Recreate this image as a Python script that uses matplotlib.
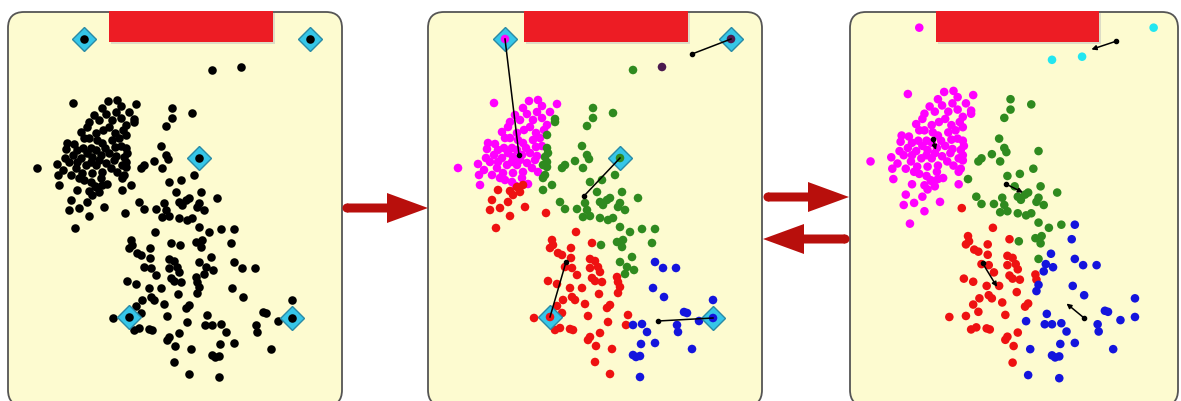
import numpy as np
import matplotlib.pyplot as plt
from matplotlib.patches import FancyBboxPatch, Rectangle, FancyArrow, Circle

# point positions, pixels inside a panel (y goes down), grouped by
# cluster after the first assignment -> cluster after the second one
mm_x = [74, 109, 118, 137, 95, 107, 117, 127, 88, 97, 110, 116, 85, 68, 67, 78, 92, 103, 113, 120,
        82, 93, 102, 110, 38, 58, 70, 77, 87, 97, 107, 72, 83, 93, 103, 60, 85, 92, 102,
        100, 113, 122, 104, 90, 98, 75, 84, 97, 106, 116, 122, 74, 88, 115, 78, 92, 100, 64, 80,
        112, 117, 124, 130, 122, 103, 66, 59, 96, 108, 118, 90, 82]
mm_y = [103, 101, 100, 104, 115, 114, 112, 125, 127, 133, 127, 133, 138, 143, 149, 150, 148, 143, 140, 138,
        158, 157, 155, 153, 168, 164, 162, 168, 165, 165, 163, 175, 173, 173, 172, 185, 180, 182, 178,
        120, 120, 118, 130, 138, 140, 144, 148, 150, 148, 147, 146, 155, 153, 160, 162, 162, 160, 170, 178,
        168, 156, 130, 112, 106, 108, 158, 175, 186, 184, 172, 122, 132]

gm_x = [135, 135, 127, 127, 128, 125, 127, 127, 123, 125, 123, 123]
gm_y = [119, 122, 135, 148, 153, 157, 162, 167, 165, 175, 178, 190]

rm_x = [78, 90, 97, 100, 93, 103, 72, 80, 88, 70, 90, 105, 76]
rm_y = [190, 191, 187, 192, 195, 185, 200, 208, 202, 210, 216, 207, 228]

gg_x = [173, 193, 173, 167, 162, 167, 169, 155, 145, 142, 163, 195, 182, 170, 132, 202, 218, 177, 187, 190,
        140, 165, 180, 200, 198, 145, 157, 167, 183, 205, 170, 163, 180, 188, 193, 200, 210, 222, 197, 203,
        202, 181, 200]
gg_y = [108, 113, 118, 126, 146, 155, 159, 161, 165, 168, 168, 175, 180, 182, 185, 192, 198, 192, 200, 198,
        202, 203, 202, 203, 207, 209, 209, 210, 205, 210, 216, 217, 218, 220, 218, 227, 232, 229, 242, 240,
        247, 245, 262]

gb_x = [235, 232, 212, 207, 214, 205]
gb_y = [229, 243, 257, 267, 270, 274]

rr_x = [126, 156, 132, 133, 130, 151, 172, 138, 142, 151, 170, 175, 145, 152, 170, 178, 180, 157, 172, 175,
        182, 128, 197, 198, 137, 150, 162, 152, 155, 143, 179, 165, 137, 190, 187, 114, 142, 168, 135, 140,
        150, 153, 170, 168, 180, 176, 175]
rr_y = [213, 232, 240, 245, 248, 248, 243, 253, 255, 258, 259, 261, 267, 268, 268, 267, 272, 275, 278, 281,
        282, 281, 277, 282, 284, 288, 288, 297, 300, 300, 294, 304, 306, 305, 308, 318, 313, 316, 330, 328,
        329, 330, 337, 340, 333, 346, 362]

rb_x = [200, 198, 188, 208, 206, 192, 190]
rb_y = [287, 293, 322, 315, 325, 349, 374]

bb_x = [235, 243, 256, 233, 244, 293, 264, 267, 257, 258, 213, 222, 227, 279, 235, 221, 272, 213, 216, 220, 220]
bb_y = [262, 268, 268, 288, 297, 300, 312, 313, 325, 332, 325, 324, 332, 321, 343, 344, 349, 355, 357, 356, 377]

top_x = [242, 213]
top_y = [67, 70]
top_lab2 = ['k', 'g']
top_lab3 = ['c', 'c']

# the five starting centroids (chosen data points)
seed_x = [85, 311, 200, 130, 293]
seed_y = [39, 39, 158, 317, 318]
seed_lab2 = ['m', 'k', 'g', 'r', 'b']
seed_lab3 = ['m', 'c', 'g', 'r', 'b']

# centroids after first update (panel 2)
cen2_x = [99, 272, 164, 146, 238]
cen2_y = [155, 54, 196, 262, 321]

# centroid moves in panel 3
mv_x0 = [98, 275, 169, 146, 244]
mv_y0 = [146, 52, 190, 266, 319]
mv_x1 = [101, 251, 185, 160, 227]
mv_y1 = [157, 60, 198, 289, 305]

colors = {'m': '#ff00ff', 'g': '#2f8a1f', 'r': '#ee1111', 'b': '#1414dd',
          'k': '#4b1a4f', 'c': '#22e6f0'}

# put all the points together
xs, ys, lab2, lab3 = [], [], [], []
for gx, gy, a, b in [(mm_x, mm_y, 'm', 'm'), (gm_x, gm_y, 'g', 'm'), (rm_x, rm_y, 'r', 'm'),
                     (gg_x, gg_y, 'g', 'g'), (gb_x, gb_y, 'g', 'b'), (rr_x, rr_y, 'r', 'r'),
                     (rb_x, rb_y, 'r', 'b'), (bb_x, bb_y, 'b', 'b')]:
    xs += gx
    ys += gy
    lab2 += [a] * len(gx)
    lab3 += [b] * len(gx)
xs += top_x + seed_x
ys += top_y + seed_y
lab2 += top_lab2 + seed_lab2
lab3 += top_lab3 + seed_lab3

W, H = 1181, 401
fig = plt.figure(figsize=(W / 100, H / 100), dpi=100)

# background: panels, red title bars, big arrows
bg = fig.add_axes([0, 0, 1, 1])
bg.set_xlim(0, W)
bg.set_ylim(H, 0)
bg.axis('off')

for left, right, rl, rr in [(8, 342, 109, 273), (428, 762, 524, 688), (850, 1178, 936, 1099)]:
    bg.add_patch(FancyBboxPatch((left, 12), right - left, 394,
                                boxstyle='round,pad=0,rounding_size=16',
                                fc='#fdfbd0', ec='#555555', lw=1.3))
    bg.add_patch(Rectangle((rl + 2, 13), rr - rl, 31, fc='#c8c8c0', ec='none', alpha=0.6))
    bg.add_patch(Rectangle((rl, 11), rr - rl, 31, fc='#ed1c24', ec='none'))

arrow_red = '#b80f0c'
for x0, x1, yy in [(347, 428, 208), (768, 849, 197), (845, 763, 239)]:
    bg.add_patch(FancyArrow(x0, yy, x1 - x0, 0, width=9, head_width=30, head_length=41,
                            length_includes_head=True, fc=arrow_red, ec='none'))
    bg.add_patch(Circle((x0, yy), 4.5, fc=arrow_red, ec='none'))


def panel_axes(left, right, xlim, ylim):
    ax = fig.add_axes([left / W, 0, (right - left) / W, (H - 12) / H])
    ax.set_xlim(*xlim)
    ax.set_ylim(*ylim)
    ax.axis('off')
    ax.patch.set_alpha(0)
    return ax


dot = 38
ax1 = panel_axes(8, 342, (9, 343), (401, 12))
ax2 = panel_axes(428, 762, (8, 342), (401, 12))
ax3 = panel_axes(850, 1178, (18.2, 334.5), (399.0, 23.9))

# panel 1: raw data with starting centroids
ax1.scatter(xs, ys, s=dot, c='black', lw=0, clip_on=False)
ax1.plot(seed_x, seed_y, 'D', ms=12.5, mfc='#35c6e8', mec='#2a8aa5', mew=1, ls='none')
ax1.scatter(seed_x, seed_y, s=dot, c='black', lw=0, zorder=3)

# panel 2: first assignment and centroid update
ax2.scatter(xs, ys, s=dot, c=[colors[l] for l in lab2], lw=0, clip_on=False)
ax2.plot(seed_x, seed_y, 'D', ms=12.5, mfc='#35c6e8', mec='#2a8aa5', mew=1, ls='none')
ax2.scatter(seed_x, seed_y, s=dot, c=[colors[l] for l in seed_lab2], lw=0, zorder=3)
for i in range(5):
    ax2.plot([seed_x[i], cen2_x[i]], [seed_y[i], cen2_y[i]], color='black', lw=1.1, zorder=4)
ax2.plot(cen2_x, cen2_y, 'o', ms=3, color='black', zorder=5)

# panel 3: second assignment, centroids move a little
ax3.scatter(xs, ys, s=dot, c=[colors[l] for l in lab3], lw=0, clip_on=False)
for i in range(5):
    ax3.annotate('', xy=(mv_x1[i], mv_y1[i]), xytext=(mv_x0[i], mv_y0[i]),
                 arrowprops=dict(arrowstyle='-|>', lw=1.1, color='black',
                                 mutation_scale=7, shrinkA=0, shrinkB=0), zorder=4)
ax3.plot(mv_x0, mv_y0, 'o', ms=3, color='black', zorder=5)

plt.savefig('out.png', dpi=100)
